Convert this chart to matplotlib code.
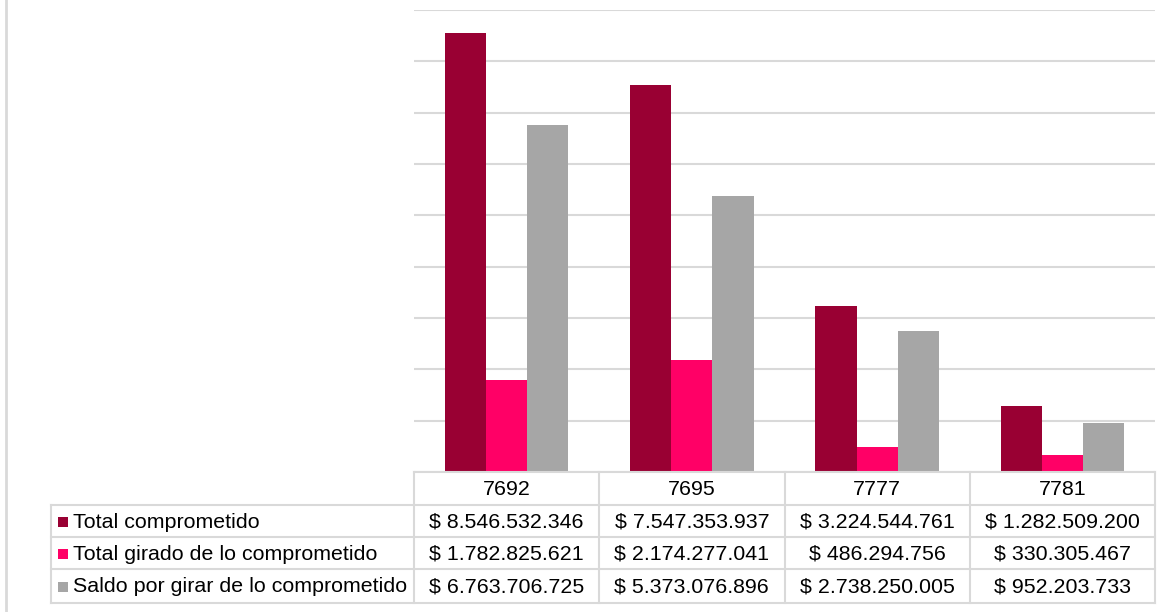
import matplotlib
matplotlib.use("Agg")
import matplotlib.pyplot as plt
from matplotlib.patches import Rectangle

plt.rcParams['font.family'] = ['Liberation Sans', 'DejaVu Sans']

categories = ["7692", "7695", "7777", "7781"]
series_names = ["Total comprometido", "Total girado de lo comprometido",
                "Saldo por girar de lo comprometido"]
total_comprometido = [8546532346, 7547353937, 3224544761, 1282509200]
total_girado = [1782825621, 2174277041, 486294756, 330305467]
saldo_por_girar = [6763706725, 5373076896, 2738250005, 952203733]
series_values = [total_comprometido, total_girado, saldo_por_girar]
colors = ["#990033", "#FF0066", "#A6A6A6"]
grid_color = "#D9D9D9"

W, H = 1171, 612
fig = plt.figure(figsize=(W / 100, H / 100), dpi=100)

# pixel geometry
px_left, px_right, px_top, px_bottom = 414, 1155, 10, 472
ax = fig.add_axes([px_left / W, 1 - px_bottom / H,
                   (px_right - px_left) / W, (px_bottom - px_top) / H])
n = len(categories)
bw = 0.222
xs = list(range(n))
for i, (vals, c) in enumerate(zip(series_values, colors)):
    ax.bar([x + (i - 1) * bw for x in xs], vals, width=bw, color=c,
           zorder=3, linewidth=0)
ax.set_xlim(-0.5, n - 0.5)
ax.set_ylim(0, 9e9)
ax.set_yticks([k * 1e9 for k in range(10)])
ax.yaxis.grid(True, color=grid_color, linewidth=1.5, zorder=0)
ax.set_xticks([])
ax.tick_params(left=False, labelleft=False)
for s in ax.spines.values():
    s.set_visible(False)

# table overlay in pixel coordinates
tax = fig.add_axes([0, 0, 1, 1], zorder=5)
tax.set_xlim(0, W)
tax.set_ylim(H, 0)
tax.axis('off')
tax.patch.set_alpha(0)

lw = 1.5
# outer chart border line on left
tax.plot([5.5, 5.5], [0, H], color=grid_color, lw=2)

col_w = (px_right - px_left) / n
rows_y = [472, 505, 537, 569, 603]
leg_left = 51
# horizontal lines
tax.plot([px_left, px_right], [rows_y[0]] * 2, color=grid_color, lw=lw)
for y in rows_y[1:]:
    tax.plot([leg_left, px_right], [y, y], color=grid_color, lw=lw)
# vertical lines
tax.plot([leg_left, leg_left], [rows_y[1], rows_y[-1]], color=grid_color, lw=lw)
for j in range(n + 1):
    x = px_left + j * col_w
    tax.plot([x, x], [rows_y[0], rows_y[-1]], color=grid_color, lw=lw)

fs = 15.4
for j, cat in enumerate(categories):
    cx = px_left + (j + 0.5) * col_w
    tax.text(cx, (rows_y[0] + rows_y[1]) / 2 + 1, cat, ha='center',
             va='center', fontsize=fs, color='black')


def fmt(v):
    return "$ " + f"{v:,}".replace(",", ".")


for i, (name, vals, c) in enumerate(zip(series_names, series_values, colors)):
    cy = (rows_y[i + 1] + rows_y[i + 2]) / 2 + 1
    tax.add_patch(Rectangle((58, cy - 5), 10, 10, color=c, lw=0))
    tax.text(73, cy, name, ha='left', va='center', fontsize=fs, color='black')
    for j, v in enumerate(vals):
        cx = px_left + (j + 0.5) * col_w
        tax.text(cx, cy, fmt(v), ha='center', va='center', fontsize=fs,
                 color='black')

fig.savefig("out.png", dpi=100)
